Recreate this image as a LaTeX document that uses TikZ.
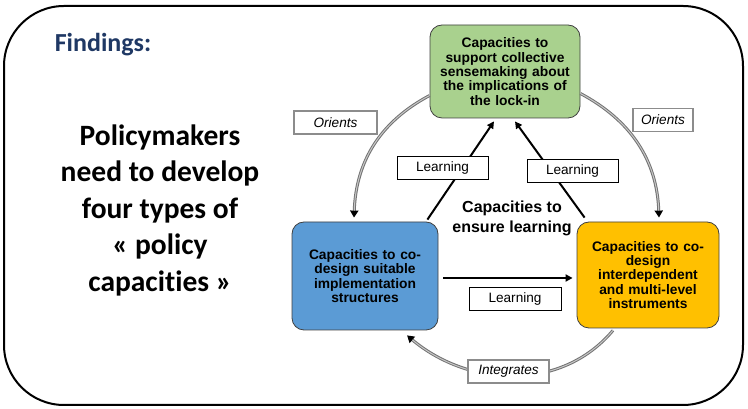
\documentclass[tikz,border=0pt]{standalone}
\usepackage{fontspec}
\setmainfont{Liberation Sans}
\newfontfamily\cali[Ligatures=NoCommon]{Carlito}
\usetikzlibrary{arrows.meta}
\definecolor{navy}{HTML}{1F3864}
\definecolor{capgreen}{HTML}{A9D18E}
\definecolor{capblue}{HTML}{5B9BD5}
\definecolor{caporange}{HTML}{FFC000}
\tikzset{
  capbox/.style={draw=black!75, line width=0.8pt, rounded corners=12pt, align=center, inner sep=2pt,
    font=\bfseries\fontsize{13.8}{14.3}\selectfont},
  learnbox/.style={draw=black, line width=0.6pt, fill=white, minimum width=91pt, minimum height=23pt, inner sep=0pt,
    font=\fontsize{13.6}{15}\selectfont},
  relbox/.style={draw=black!45, line width=1.4pt, fill=white, minimum height=23pt, inner sep=0pt,
    font=\itshape\fontsize{13.6}{15}\selectfont},
  learnarrow/.style={line width=2pt, -{Triangle[width=7pt,length=7pt]}},
  greyouter/.style={black!55, line width=3pt, -{Triangle[width=8pt,length=7pt,black]}},
  greyinner/.style={black!22, line width=1pt, shorten >=7pt},
}
\begin{document}
\begin{tikzpicture}[x=1pt,y=1pt]
\useasboundingbox (0,0) rectangle (748,409);
% outer frame
\draw[line width=2pt, rounded corners=60pt] (4,4) rectangle (743,403);
% left texts
\node[font=\cali\bfseries\fontsize{26}{30}\selectfont, text=navy] (findings) at (103,364) {Findings:};
\node[align=center, font=\cali\bfseries\fontsize{29.5}{36.5}\selectfont] (policy) at (160,199) {Policymakers\\need to develop\\four types of\\« policy\\capacities »};
% boxes
\node[capbox, fill=capgreen, minimum width=150pt, minimum height=93pt, text width=144pt] (green) at (505,337.5)
  {Capacities to\\support collective\\sensemaking about\\the implications of\\the lock-in};
\node[capbox, fill=capblue, minimum width=146pt, minimum height=108pt, text width=140pt] (blue) at (365,133)
  {Capacities to co-\\design suitable\\implementation\\structures};
\node[capbox, fill=caporange, minimum width=142pt, minimum height=106pt, text width=136pt] (orange) at (648,134)
  {Capacities to co-\\design\\interdependent\\and multi-level\\instruments};
\node[font=\bfseries\fontsize{16}{20}\selectfont, align=center] (ensure) at (512,191) {Capacities to\\ensure learning};
% learning arrows
\draw[learnarrow] ([xshift=-11pt,yshift=2pt]blue.north east) -- ([xshift=-11pt,yshift=-3pt]green.south);
\draw[learnarrow] ([xshift=8pt,yshift=4pt]orange.north west) -- ([xshift=10pt,yshift=-3pt]green.south);
\draw[learnarrow] ([xshift=5pt,yshift=-2pt]blue.east) -- ([xshift=-4pt,yshift=-3pt]orange.west);
\node[learnbox] (l1) at (442.5,241.5) {Learning};
\node[learnbox] (l2) at (572.5,238.5) {Learning};
\node[learnbox, minimum width=92pt] (l3) at (515,110.5) {Learning};
% grey arcs
\coordinate (gL) at ([yshift=-24pt]green.west);
\coordinate (gR) at ([yshift=-22pt]green.east);
\coordinate (bT) at ([xshift=-11pt,yshift=4pt]blue.north);
\coordinate (oT) at ([xshift=11pt,yshift=4pt]orange.north);
\coordinate (oB) at ([xshift=-35pt,yshift=-2pt]orange.south);
\coordinate (bB) at ([xshift=42pt,yshift=-5pt]blue.south);
\draw[greyouter] (gL) to[out=208,in=88] (bT);
\draw[greyinner] (gL) to[out=208,in=88] (bT);
\draw[greyouter] (gR) to[out=-28,in=92] (oT);
\draw[greyinner] (gR) to[out=-28,in=92] (oT);
\draw[greyouter] (oB) to[out=-130,in=-40] (bB);
\draw[greyinner] (oB) to[out=-130,in=-40] (bB);
\node[relbox, minimum width=83pt] (o1) at (335.5,286.5) {Orients};
\node[relbox, minimum width=60pt] (o2) at (663,289) {Orients};
\node[relbox, minimum width=81pt, line width=2pt] (integ) at (508.5,37.5) {Integrates};
\end{tikzpicture}
\end{document}
